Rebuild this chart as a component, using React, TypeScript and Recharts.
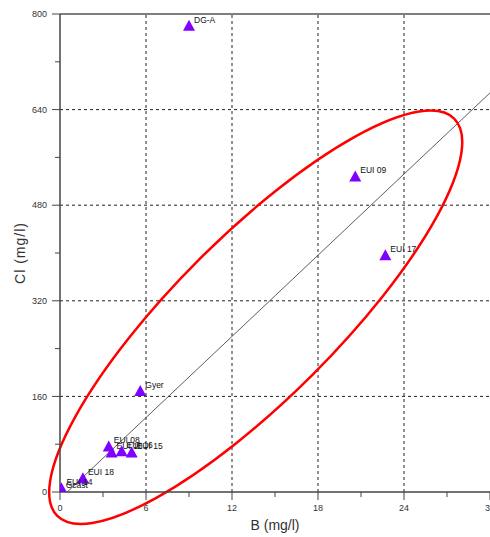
import React from "react";
import {
  ScatterChart,
  Scatter,
  XAxis,
  YAxis,
  ReferenceLine,
} from "recharts";

// ---- data ----
const sampleNames = [
  "DG-A",
  "EUI 09",
  "EUI 17",
  "Gyer",
  "EUI 08",
  "EUI 10",
  "EUI 16",
  "EUI 15",
  "EUI 18",
  "EUI 14",
  "Gcast",
];
const boronValues = [9.0, 20.6, 22.7, 5.6, 3.4, 3.6, 4.3, 5.0, 1.6, 0.1, 0.05];
const chlorideValues = [781, 529, 397, 170, 77, 67, 69, 67, 24, 7, 3];

const xTicks = [0, 3, 6, 9, 12, 15, 18, 21, 24, 27, 30];
const yTicks = [0, 80, 160, 240, 320, 400, 480, 560, 640, 720, 800];
const xMajor = [6, 12, 18, 24];
const yMajor = [160, 320, 480, 640];

// regression line end points (B, Cl)
const fitLine = [
  { x: 0.5, y: 0 },
  { x: 30, y: 668 },
];
// ellipse major axis end points (B, Cl) and minor/major ratio
const ellipseAxis = [
  { x: -0.19, y: -40 },
  { x: 27.5, y: 625 },
];
const ellipseRatio = 0.288;

const points = sampleNames.map((name, i) => ({
  name,
  x: boronValues[i],
  y: chlorideValues[i],
}));

const FONT = "'Liberation Sans', Arial, sans-serif";
const AXIS_COLOR = "#444";

const TriangleLabel = (props: any) => {
  const { cx, cy, payload } = props;
  if (cx == null || cy == null) return null;
  const h = 5.5;
  const w = 6;
  return (
    <g>
      <polygon
        points={`${cx},${cy - h} ${cx + w},${cy + h} ${cx - w},${cy + h}`}
        fill="#8000ff"
      />
      <text
        x={cx + 5}
        y={cy - 2.5}
        fontSize={8.5}
        fontFamily={FONT}
        fill="#111"
      >
        {payload.name}
      </text>
    </g>
  );
};

const XTick = (props: any) => {
  const { x, y, payload } = props;
  const v = payload.value;
  const axisY = y - 13;
  const major = v % 6 === 0;
  return (
    <g>
      <line
        x1={x}
        x2={x}
        y1={axisY}
        y2={axisY + (major ? 8 : 5)}
        stroke={AXIS_COLOR}
        strokeWidth={1}
      />
      {major && (
        <text
          x={x}
          y={y}
          dy="0.71em"
          textAnchor="middle"
          fontSize={9}
          fontFamily={FONT}
          fill="#333"
        >
          {v}
        </text>
      )}
    </g>
  );
};

const YTick = (props: any) => {
  const { x, y, payload } = props;
  const v = payload.value;
  const axisX = x + 13;
  const major = v % 160 === 0;
  return (
    <g>
      <line
        x1={axisX - (major ? 8 : 5)}
        x2={axisX}
        y1={y}
        y2={y}
        stroke={AXIS_COLOR}
        strokeWidth={1}
      />
      {major && (
        <text
          x={x}
          y={y}
          dy="0.35em"
          textAnchor="end"
          fontSize={9}
          fontFamily={FONT}
          fill="#333"
        >
          {v}
        </text>
      )}
    </g>
  );
};

const EllipseShape = (props: any) => {
  const { x1, y1, x2, y2 } = props;
  if ([x1, y1, x2, y2].some((v) => v == null || isNaN(v))) return null;
  const cx = (x1 + x2) / 2;
  const cy = (y1 + y2) / 2;
  const rx = Math.hypot(x2 - x1, y2 - y1) / 2;
  const ry = rx * ellipseRatio;
  const ang = (Math.atan2(y2 - y1, x2 - x1) * 180) / Math.PI;
  return (
    <ellipse
      cx={cx}
      cy={cy}
      rx={rx}
      ry={ry}
      transform={`rotate(${ang} ${cx} ${cy})`}
      fill="none"
      stroke="#ff0000"
      strokeWidth={2.5}
    />
  );
};

export default function App() {
  return (
    <div style={{ width: 490, height: 537, overflow: "hidden" }}>
      <style>{`body{margin:0;overflow:hidden;background:#fff}`}</style>
      <ScatterChart
        width={500}
        height={537}
        margin={{ top: 14, right: 10, bottom: 0, left: 0 }}
      >
        <XAxis
          type="number"
          dataKey="x"
          domain={[0, 30]}
          ticks={xTicks}
          allowDataOverflow
          height={45}
          tickSize={8}
          tickMargin={5}
          tickLine={false}
          tick={<XTick />}
          stroke={AXIS_COLOR}
          strokeWidth={1.5}
          interval={0}
          label={{
            content: (p: any) => {
              const vb = p.viewBox;
              return (
                <text
                  x={vb.x + vb.width / 2}
                  y={vb.y + 33}
                  textAnchor="middle"
                  dominantBaseline="central"
                  fontSize={14}
                  fontFamily={FONT}
                  fill="#333"
                >
                  B (mg/l)
                </text>
              );
            },
          }}
        />
        <YAxis
          type="number"
          dataKey="y"
          domain={[0, 800]}
          ticks={yTicks}
          allowDataOverflow
          width={60}
          tickSize={8}
          tickMargin={5}
          tickLine={false}
          tick={<YTick />}
          stroke={AXIS_COLOR}
          strokeWidth={1.5}
          interval={0}
          label={{
            content: (p: any) => {
              const vb = p.viewBox;
              const cx = vb.x + 20;
              const cy = vb.y + vb.height / 2;
              return (
                <text
                  x={cx}
                  y={cy}
                  transform={`rotate(-90 ${cx} ${cy})`}
                  textAnchor="middle"
                  dominantBaseline="central"
                  fontSize={14}
                  letterSpacing={1}
                  fontFamily={FONT}
                  fill="#333"
                >
                  Cl (mg/l)
                </text>
              );
            },
          }}
        />
        {xMajor.map((v) => (
          <ReferenceLine
            key={"gx" + v}
            x={v}
            stroke="#222"
            strokeDasharray="3 3"
            strokeWidth={1}
          />
        ))}
        {yMajor.map((v) => (
          <ReferenceLine
            key={"gy" + v}
            y={v}
            stroke="#222"
            strokeDasharray="3 3"
            strokeWidth={1}
          />
        ))}
        <ReferenceLine y={800} stroke="#555" strokeWidth={1.5} />
        <ReferenceLine
          segment={fitLine}
          stroke="#333"
          strokeWidth={0.8}
          ifOverflow="visible"
        />
        <ReferenceLine
          segment={ellipseAxis}
          ifOverflow="visible"
          shape={<EllipseShape />}
        />
        <Scatter
          data={points}
          isAnimationActive={false}
          shape={<TriangleLabel />}
        />
      </ScatterChart>
    </div>
  );
}
